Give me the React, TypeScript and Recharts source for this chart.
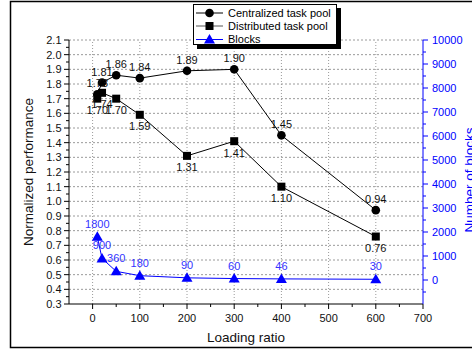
import { ComposedChart, Line, LabelList, ReferenceLine, XAxis, YAxis } from "recharts";

const xValues = [10, 20, 50, 100, 200, 300, 400, 600];
const centralized = [1.73, 1.81, 1.86, 1.84, 1.89, 1.9, 1.45, 0.94];
const distributed = [1.7, 1.74, 1.7, 1.59, 1.31, 1.41, 1.1, 0.76];
const blocks = [1800, 900, 360, 180, 90, 60, 46, 30];

const xMajor = [0, 100, 200, 300, 400, 500, 600, 700];
const xGrid = [0, 100, 200, 300, 400, 500, 600];
const leftMajor = [0.3, 0.4, 0.5, 0.6, 0.7, 0.8, 0.9, 1.0, 1.1, 1.2, 1.3, 1.4, 1.5, 1.6, 1.7, 1.8, 1.9, 2.0, 2.1];
const rightMajor = [0, 1000, 2000, 3000, 4000, 5000, 6000, 7000, 8000, 9000, 10000];

const xMinor = xMajor.slice(0, -1).map((v) => v + 50);
const leftMinor = leftMajor.slice(0, -1).map((v) => +(v + 0.05).toFixed(2));
const rightMinor = [-500, ...rightMajor.slice(0, -1).map((v) => v + 500)];

const xTicks = [...xMajor, ...xMinor].sort((a, b) => a - b);
const leftTicks = [...leftMajor, ...leftMinor].sort((a, b) => a - b);
const rightTicks = [...rightMinor, ...rightMajor].sort((a, b) => a - b);

const data = xValues.map((x, i) => ({
  x,
  centralized: centralized[i],
  distributed: distributed[i],
  blocks: blocks[i],
}));

const BLUE = "#0000ff";
const GRID = "#9a9a9a";

function BottomTick(props: any) {
  const { x, y, payload } = props;
  const major = xMajor.includes(payload.value);
  return (
    <g>
      <line x1={x} x2={x} y1={y} y2={y + (major ? 5 : 3)} stroke="#000" />
      {major && (
        <text x={x} y={y + 18} textAnchor="middle" fontSize={11} fill="#111">
          {payload.value}
        </text>
      )}
    </g>
  );
}

function LeftTick(props: any) {
  const { x, y, payload } = props;
  const major = leftMajor.includes(payload.value);
  return (
    <g>
      <line x1={x - (major ? 5 : 3)} x2={x} y1={y} y2={y} stroke="#000" />
      {major && (
        <text x={x - 7.5} y={y} dy="0.36em" textAnchor="end" fontSize={11} fill="#111">
          {payload.value.toFixed(1)}
        </text>
      )}
    </g>
  );
}

function RightTick(props: any) {
  const { x, y, payload } = props;
  const major = rightMajor.includes(payload.value);
  return (
    <g>
      <line x1={x} x2={x + (major ? 5 : 3)} y1={y} y2={y} stroke={BLUE} />
      {major && (
        <text x={x + 9} y={y} dy="0.36em" textAnchor="start" fontSize={11} fill={BLUE}>
          {payload.value}
        </text>
      )}
    </g>
  );
}

const circleDot = (p: any) => <circle key={`c-${p.index}`} cx={p.cx} cy={p.cy} r={4.3} fill="#000" />;
const squareDot = (p: any) => <rect key={`s-${p.index}`} x={p.cx - 4} y={p.cy - 4} width={8} height={8} fill="#000" />;
const triangleDot = (p: any) => (
  <path key={`t-${p.index}`} d={`M${p.cx},${p.cy - 5.5} L${p.cx + 5.5},${p.cy + 4} L${p.cx - 5.5},${p.cy + 4} Z`} fill={BLUE} />
);

export default function App() {
  return (
    <div
      style={{
        position: "absolute",
        left: 0,
        top: 0,
        width: 472,
        height: 349,
        overflow: "hidden",
        background: "#fff",
        fontFamily: "'Liberation Sans', Arial, sans-serif",
      }}
    >
      <ComposedChart width={472} height={349} data={data} margin={{ top: 40, right: 0, bottom: 0, left: 0 }}>
        <XAxis
          dataKey="x"
          type="number"
          domain={[-50, 700]}
          ticks={xTicks}
          interval={0}
          tickSize={0}
          tickMargin={0}
          tickLine={false}
          tick={<BottomTick />}
          height={45}
          stroke="#000"
          allowDataOverflow
        />
        <YAxis
          yAxisId="left"
          type="number"
          domain={[0.3, 2.1]}
          ticks={leftTicks}
          interval={0}
          tickSize={0}
          tickMargin={0}
          tickLine={false}
          tick={<LeftTick />}
          width={69}
          stroke="#000"
          allowDataOverflow
        />
        <YAxis
          yAxisId="right"
          orientation="right"
          type="number"
          domain={[-1000, 10000]}
          ticks={rightTicks}
          interval={0}
          tickSize={0}
          tickMargin={0}
          tickLine={false}
          tick={<RightTick />}
          width={49}
          stroke={BLUE}
          allowDataOverflow
        />
        {leftMajor.slice(1).map((v) => (
          <ReferenceLine key={`h${v}`} yAxisId="left" y={v} stroke={GRID} strokeDasharray="2 2" />
        ))}
        {xGrid.map((v) => (
          <ReferenceLine key={`v${v}`} yAxisId="left" x={v} stroke={GRID} strokeDasharray="1 2" />
        ))}
        <Line
          yAxisId="left"
          dataKey="centralized"
          stroke="#000"
          strokeWidth={1}
          dot={circleDot}
          activeDot={false}
          isAnimationActive={false}
        >
          <LabelList dataKey="centralized" position="top" offset={7} fontSize={11} fill="#111" formatter={(v: any) => Number(v).toFixed(2)} />
        </Line>
        <Line
          yAxisId="left"
          dataKey="distributed"
          stroke="#000"
          strokeWidth={1}
          dot={squareDot}
          activeDot={false}
          isAnimationActive={false}
        >
          <LabelList dataKey="distributed" position="bottom" offset={7.5} fontSize={11} fill="#111" formatter={(v: any) => Number(v).toFixed(2)} />
        </Line>
        <Line
          yAxisId="right"
          dataKey="blocks"
          stroke={BLUE}
          strokeWidth={1}
          dot={triangleDot}
          activeDot={false}
          isAnimationActive={false}
        >
          <LabelList dataKey="blocks" position="top" offset={9} fontSize={11} fill="#3333ff" />
        </Line>
      </ComposedChart>

      <svg width={472} height={349} style={{ position: "absolute", left: 0, top: 0, pointerEvents: "none" }}>
        <rect x={10.5} y={1.5} width={470} height={346} fill="none" stroke="#000" strokeWidth={1.5} />

        {/* legend */}
        <rect x={197} y={8} width={144} height={41} fill="#000" />
        <rect x={193.5} y={4.5} width={143} height={40} fill="#fff" stroke="#000" />
        <line x1={196} x2={223} y1={13} y2={13} stroke="#000" />
        <circle cx={209.5} cy={13} r={4.3} fill="#000" />
        <text x={228} y={13} dy="0.36em" fontSize={11} fill="#000">Centralized task pool</text>
        <line x1={196} x2={223} y1={26} y2={26} stroke="#555" />
        <rect x={205.5} y={22} width={8} height={8} fill="#000" />
        <text x={228} y={26} dy="0.36em" fontSize={11} fill="#000">Distributed task pool</text>
        <line x1={196} x2={223} y1={39.5} y2={39.5} stroke={BLUE} />
        <path d="M209.5,34 L215,43.5 L204,43.5 Z" fill={BLUE} />
        <text x={228} y={39.5} dy="0.36em" fontSize={11} fill="#000">Blocks</text>

        {/* axis titles */}
        <text x={246} y={337} dy="0.36em" textAnchor="middle" fontSize={13.5} fill="#111">Loading ratio</text>
        <text
          x={28}
          y={172}
          dy="0.36em"
          textAnchor="middle"
          fontSize={13.5}
          fill="#111"
          transform="rotate(-90 28 172)"
        >
          Normalized performance
        </text>
        <text
          x={469}
          y={180}
          dy="0.36em"
          textAnchor="middle"
          fontSize={13.5}
          fill={BLUE}
          transform="rotate(-90 469 180)"
        >
          Number of blocks
        </text>
      </svg>
    </div>
  );
}
